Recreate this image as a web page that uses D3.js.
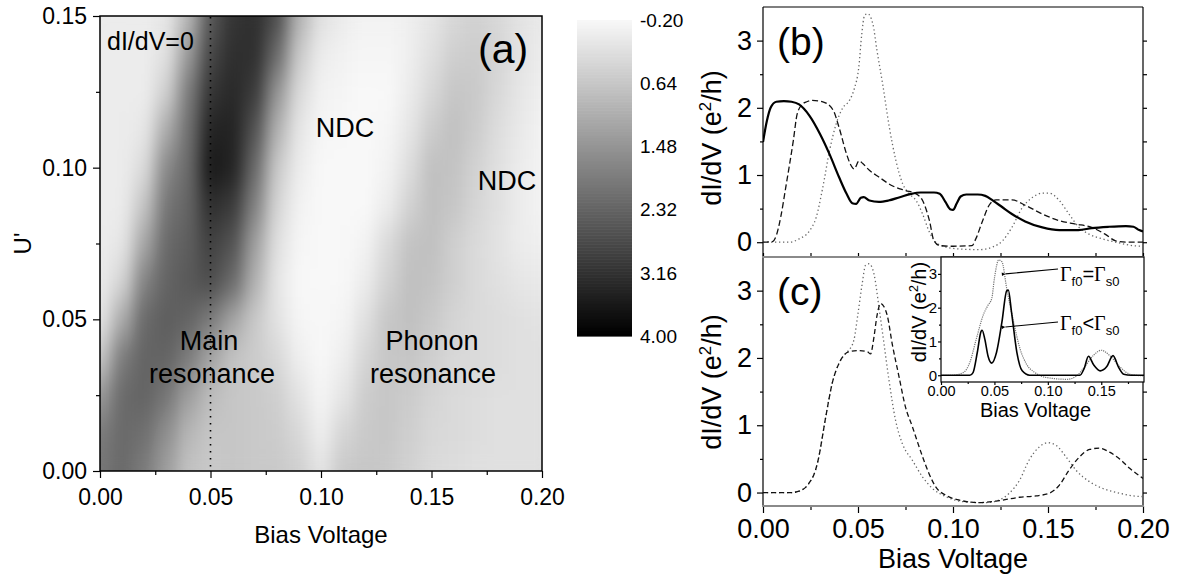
<!DOCTYPE html>
<html>
<head>
<meta charset="utf-8">
<script src="https://cdn.jsdelivr.net/npm/d3@7"></script>
<style>
  html, body { margin: 0; padding: 0; background: #fff; }
  svg { display: block; }
</style>
</head>
<body>
<svg id="fig" width="1181" height="581"></svg>
<script>
// ---------------- data ----------------
// (a) dI/dV map: bias voltage columns, U' rows
const biasGrid = [0, 0.01, 0.02, 0.03, 0.04, 0.05, 0.06, 0.07, 0.08, 0.09, 0.10,
                  0.11, 0.12, 0.13, 0.14, 0.15, 0.16, 0.17, 0.18, 0.19, 0.20];
const uGrid = [0, 0.0125, 0.025, 0.0375, 0.05, 0.0625, 0.075, 0.0875, 0.1, 0.1125, 0.125, 0.1375, 0.15];
const dIdVGrid = [
  [2.0, 2.2, 1.9, 1.3, 0.7, 0.6, 0.65, 0.6, 0.6, 0.5, 0.15, 0.6, 0.65, 0.6, 0.45, 0.3, 0.25, 0.2, 0.2, 0.2, 0.2],
  [1.9, 2.2, 2.1, 1.6, 0.9, 0.65, 0.65, 0.6, 0.55, 0.35, -0.05, 0.4, 0.6, 0.65, 0.5, 0.35, 0.3, 0.25, 0.2, 0.2, 0.2],
  [1.4, 2.2, 2.3, 2.0, 1.3, 0.8, 0.65, 0.6, 0.5, 0.15, -0.15, 0.1, 0.55, 0.65, 0.55, 0.4, 0.3, 0.25, 0.2, 0.2, 0.2],
  [0.6, 1.9, 2.3, 2.3, 1.9, 1.2, 0.7, 0.55, 0.35, -0.05, -0.2, -0.05, 0.4, 0.65, 0.65, 0.5, 0.35, 0.3, 0.25, 0.2, 0.2],
  [0.1, 1.1, 2.2, 2.4, 2.3, 1.9, 1.2, 0.6, 0.15, -0.15, -0.2, -0.15, 0.2, 0.65, 0.75, 0.6, 0.4, 0.3, 0.25, 0.2, 0.15],
  [0.0, 0.4, 1.8, 2.3, 2.5, 2.7, 2.2, 1.0, 0.1, -0.2, -0.2, -0.2, 0.0, 0.45, 0.75, 0.7, 0.5, 0.3, 0.2, 0.1, 0.05],
  [0.0, 0.1, 1.2, 2.2, 2.4, 2.9, 2.6, 1.3, 0.2, -0.15, -0.2, -0.2, -0.1, 0.3, 0.7, 0.75, 0.5, 0.3, 0.15, 0.0, -0.05],
  [0.0, 0.0, 0.7, 2.0, 2.3, 3.2, 3.0, 1.8, 0.4, -0.1, -0.2, -0.2, -0.2, 0.0, 0.45, 0.75, 0.65, 0.4, 0.2, 0.0, -0.1],
  [0.0, 0.0, 0.3, 1.7, 2.2, 3.6, 3.4, 2.2, 0.6, 0.0, -0.2, -0.2, -0.2, -0.1, 0.25, 0.75, 0.7, 0.45, 0.2, 0.0, -0.1],
  [0.0, 0.0, 0.1, 1.1, 2.1, 3.4, 3.4, 2.6, 1.0, 0.1, -0.15, -0.2, -0.2, -0.15, 0.1, 0.55, 0.75, 0.55, 0.25, 0.05, -0.1],
  [0.0, 0.0, 0.0, 0.5, 1.9, 3.1, 3.3, 3.0, 1.5, 0.3, -0.1, -0.15, -0.2, -0.2, 0.0, 0.35, 0.65, 0.6, 0.35, 0.1, -0.05],
  [0.0, 0.0, 0.0, 0.2, 1.4, 2.8, 3.2, 3.2, 2.2, 0.6, 0.0, -0.1, -0.15, -0.15, -0.05, 0.2, 0.5, 0.55, 0.4, 0.15, 0.0],
  [0.0, 0.0, 0.0, 0.1, 0.9, 2.5, 3.1, 3.2, 2.7, 1.0, 0.2, 0.0, -0.1, -0.1, -0.05, 0.1, 0.35, 0.45, 0.35, 0.15, 0.05]
];
const colorTicks = [-0.20, 0.64, 1.48, 2.32, 3.16, 4.00];
const zeroConductanceBias = 0.05;

// axis ticks
const biasTicks = [0, 0.05, 0.10, 0.15, 0.20];
const biasMinorTicks = [0.025, 0.075, 0.125, 0.175];
const uTicks = [0, 0.05, 0.10, 0.15];
const uMinorTicks = [0.025, 0.075, 0.125];
const condTicks = [0, 1, 2, 3];
const condMinorTicks = [0.5, 1.5, 2.5];
const insetBiasTicks = [0, 0.05, 0.10, 0.15];
const insetBiasMinor = [0.025, 0.075, 0.125, 0.175];

// (b) dI/dV curves
const bSolid = [[0,1.49],[0.002,1.8],[0.004,2.0],[0.007,2.09],[0.011,2.1],[0.015,2.09],[0.019,2.05],[0.0245,1.88],[0.03,1.61],[0.035,1.31],[0.04,0.97],[0.044,0.72],[0.047,0.58],[0.049,0.57],[0.0515,0.66],[0.053,0.67],[0.056,0.62],[0.061,0.6],[0.066,0.62],[0.072,0.67],[0.078,0.72],[0.083,0.74],[0.09,0.74],[0.093,0.72],[0.096,0.6],[0.0985,0.49],[0.1,0.48],[0.102,0.58],[0.104,0.68],[0.107,0.71],[0.113,0.71],[0.117,0.69],[0.121,0.62],[0.126,0.52],[0.131,0.42],[0.138,0.31],[0.147,0.22],[0.156,0.18],[0.166,0.18],[0.173,0.21],[0.182,0.23],[0.191,0.24],[0.195,0.23],[0.198,0.18],[0.2,0.16]];
const bDashed = [[0,0],[0.005,0.01],[0.007,0.1],[0.0095,0.4],[0.012,0.82],[0.016,1.52],[0.018,1.91],[0.021,2.06],[0.023,2.09],[0.026,2.11],[0.0315,2.09],[0.037,1.96],[0.040,1.71],[0.044,1.31],[0.046,1.16],[0.048,1.09],[0.0505,1.21],[0.0525,1.17],[0.056,1.07],[0.061,0.97],[0.068,0.84],[0.075,0.77],[0.0806,0.72],[0.084,0.62],[0.0876,0.32],[0.09,0.02],[0.093,-0.05],[0.1,-0.06],[0.11,-0.05],[0.112,0.05],[0.1156,0.32],[0.119,0.55],[0.1226,0.63],[0.131,0.63],[0.138,0.55],[0.147,0.42],[0.156,0.32],[0.1646,0.27],[0.173,0.22],[0.18,0.12],[0.1856,0.02],[0.191,0.0],[0.2,0.0]];
const bDotted = [[0,0],[0.014,0],[0.019,0.05],[0.0245,0.17],[0.028,0.37],[0.0315,0.82],[0.035,1.36],[0.0385,1.76],[0.042,2.0],[0.0455,2.11],[0.048,2.28],[0.0504,2.6],[0.052,3.1],[0.0534,3.37],[0.055,3.4],[0.0578,3.25],[0.06,2.85],[0.063,2.35],[0.0665,1.71],[0.07,1.21],[0.0735,0.87],[0.077,0.72],[0.0806,0.62],[0.084,0.42],[0.0876,0.15],[0.091,0.0],[0.096,-0.07],[0.103,-0.1],[0.114,-0.11],[0.121,-0.07],[0.126,0.02],[0.131,0.22],[0.1366,0.52],[0.142,0.67],[0.147,0.73],[0.1506,0.73],[0.156,0.62],[0.161,0.42],[0.1664,0.22],[0.1716,0.12],[0.1786,0.05],[0.1874,-0.01],[0.1944,-0.05],[0.2,-0.06]];

// (c) dI/dV curves
const cDashed = [[0,0],[0.015,0],[0.0206,0.04],[0.024,0.13],[0.0276,0.33],[0.029,0.48],[0.033,1.12],[0.0364,1.62],[0.04,1.92],[0.0426,2.04],[0.045,2.09],[0.05,2.11],[0.055,2.09],[0.0566,2.06],[0.0584,2.31],[0.06,2.63],[0.062,2.81],[0.0637,2.76],[0.0654,2.63],[0.068,2.21],[0.0716,1.72],[0.075,1.27],[0.0786,0.98],[0.084,0.53],[0.0874,0.28],[0.091,0.08],[0.0962,-0.04],[0.103,-0.11],[0.1138,-0.15],[0.1244,-0.12],[0.135,-0.07],[0.1437,-0.05],[0.1507,-0.01],[0.156,0.11],[0.161,0.33],[0.1666,0.53],[0.1719,0.64],[0.1771,0.66],[0.1824,0.6],[0.1877,0.5],[0.193,0.36],[0.2,0.21]];
const cDotted = [[0,0],[0.015,0],[0.0206,0.04],[0.024,0.13],[0.0276,0.33],[0.029,0.48],[0.033,1.12],[0.0364,1.62],[0.04,1.92],[0.0426,2.04],[0.045,2.11],[0.0478,2.26],[0.05,2.66],[0.0522,3.1],[0.054,3.38],[0.0558,3.4],[0.0584,3.25],[0.061,2.76],[0.0637,2.21],[0.0663,1.67],[0.0698,1.07],[0.0733,0.73],[0.0786,0.48],[0.084,0.23],[0.0892,0.06],[0.0962,-0.06],[0.1068,-0.14],[0.1173,-0.15],[0.1244,-0.11],[0.1296,-0.01],[0.135,0.18],[0.14,0.48],[0.1455,0.68],[0.15,0.74],[0.1543,0.7],[0.1595,0.53],[0.1648,0.33],[0.1719,0.16],[0.1789,0.06],[0.1877,-0.01],[0.1947,-0.05],[0.2,-0.06]];

// (c) inset curves
const insetEqual = [[0,0],[0.011,0],[0.021,0.08],[0.027,0.38],[0.033,1.07],[0.04,1.82],[0.044,2.07],[0.0475,2.27],[0.05,2.87],[0.054,3.41],[0.057,3.36],[0.0615,2.57],[0.068,1.57],[0.074,0.78],[0.08,0.33],[0.088,0.08],[0.099,-0.07],[0.118,-0.12],[0.127,-0.02],[0.134,0.23],[0.143,0.6],[0.15,0.74],[0.158,0.58],[0.168,0.23],[0.177,0.03],[0.19,-0.02]];
const insetLess = [[0,0],[0.027,0],[0.030,0.08],[0.034,0.68],[0.0375,1.3],[0.0385,1.33],[0.041,1.07],[0.044,0.57],[0.0475,0.36],[0.052,0.68],[0.057,1.57],[0.0615,2.5],[0.063,2.52],[0.066,1.87],[0.071,0.68],[0.076,0.13],[0.083,0],[0.130,0],[0.134,0.2],[0.138,0.56],[0.143,0.3],[0.149,0.13],[0.155,0.25],[0.161,0.58],[0.166,0.25],[0.171,0.03],[0.178,0],[0.19,0]];

// ---------------- drawing ----------------
const FONT = '"Liberation Sans", Arial, Helvetica, sans-serif';
const SERIF = '"Liberation Serif", "Times New Roman", serif';
const svg = d3.select("#fig").attr("font-family", FONT);
const defs = svg.append("defs");

function styleAxis(g, fs) {
  g.attr("font-family", null).attr("font-size", null);
  g.select(".domain").remove();
  g.selectAll(".tick line").attr("stroke", "#000").attr("stroke-width", 1.2);
  g.selectAll(".tick text").attr("fill", "#000").attr("font-size", fs).attr("font-family", FONT);
  return g;
}
function addAxis(parent, axis, transform, fs) {
  return styleAxis(parent.append("g").attr("transform", transform).call(axis), fs);
}

// ===== panel (a) =====
const A = { l: 100, r: 542, t: 16, b: 471 };
const xA = d3.scaleLinear().domain([0, 0.2]).range([A.l, A.r]);
const yA = d3.scaleLinear().domain([0, 0.15]).range([A.b, A.t]);
const gray = d3.scaleLinear().domain([-0.2, 4.0]).range(["#f8f8f8", "#000000"]).clamp(true);

defs.append("clipPath").attr("id", "clipA")
  .append("rect").attr("x", A.l).attr("y", A.t).attr("width", A.r - A.l).attr("height", A.b - A.t);
const blur = defs.append("filter").attr("id", "smooth")
  .attr("x", "-5%").attr("y", "-5%").attr("width", "110%").attr("height", "110%")
  .attr("color-interpolation-filters", "sRGB");
blur.append("feGaussianBlur").attr("stdDeviation", "8 15").attr("result", "b");
blur.append("feComponentTransfer").append("feFuncA").attr("type", "linear").attr("slope", 20).attr("intercept", 0);

const dx = biasGrid[1] - biasGrid[0];
const du = uGrid[1] - uGrid[0];
const cells = [];
uGrid.forEach((u, i) => biasGrid.forEach((v, j) => cells.push({ v, u, z: dIdVGrid[i][j] })));

svg.append("g").attr("clip-path", "url(#clipA)")
  .append("g").attr("filter", "url(#smooth)")
  .selectAll("rect").data(cells).join("rect")
  .attr("x", d => xA(d.v - dx / 2))
  .attr("y", d => yA(d.u + du / 2))
  .attr("width", xA(dx) - xA(0) + 0.5)
  .attr("height", yA(0) - yA(du) + 0.5)
  .attr("fill", d => gray(d.z));

// dI/dV = 0 guide line
svg.append("line")
  .attr("x1", xA(zeroConductanceBias)).attr("x2", xA(zeroConductanceBias))
  .attr("y1", A.t + 1).attr("y2", A.b)
  .attr("stroke", "#000").attr("stroke-width", 1.6).attr("stroke-dasharray", "1.6,5.4");

svg.append("rect").attr("x", A.l).attr("y", A.t).attr("width", A.r - A.l).attr("height", A.b - A.t)
  .attr("fill", "none").attr("stroke", "#000").attr("stroke-width", 1.5);

addAxis(svg, d3.axisBottom(xA).tickValues(biasTicks).tickFormat(d3.format(".2f")).tickSize(7).tickPadding(11), `translate(0,${A.b})`, 23);
addAxis(svg, d3.axisBottom(xA).tickValues(biasMinorTicks).tickFormat("").tickSize(4), `translate(0,${A.b})`, 23);
addAxis(svg, d3.axisLeft(yA).tickValues(uTicks).tickFormat(d3.format(".2f")).tickSize(7).tickPadding(6), `translate(${A.l},0)`, 23);
addAxis(svg, d3.axisLeft(yA).tickValues(uMinorTicks).tickFormat("").tickSize(4), `translate(${A.l},0)`, 23);

svg.append("text").attr("x", xA(0.1)).attr("y", 543).attr("text-anchor", "middle")
  .attr("font-size", 24).text("Bias Voltage");
svg.append("text").attr("transform", `translate(31,${yA(0.075)}) rotate(-90)`).attr("text-anchor", "middle")
  .attr("font-size", 24).text("U'");

const aNotes = [
  { t: "dI/dV=0", x: 107, y: 50, fs: 25, anchor: "start" },
  { t: "(a)", x: 478, y: 63, fs: 41, anchor: "start" },
  { t: "NDC", x: 345, y: 137, fs: 27, anchor: "middle" },
  { t: "NDC", x: 507, y: 190, fs: 27, anchor: "middle" },
  { t: "Main", x: 209, y: 350, fs: 27, anchor: "middle" },
  { t: "resonance", x: 212, y: 383, fs: 27, anchor: "middle" },
  { t: "Phonon", x: 432, y: 350, fs: 27, anchor: "middle" },
  { t: "resonance", x: 433, y: 383, fs: 27, anchor: "middle" }
];
svg.append("g").selectAll("text").data(aNotes).join("text")
  .attr("x", d => d.x).attr("y", d => d.y).attr("font-size", d => d.fs)
  .attr("text-anchor", d => d.anchor).attr("fill", "#000").text(d => d.t);

// colour bar
const CB = { l: 577, r: 632, t: 20, b: 336 };
const yCB = d3.scaleLinear().domain([-0.2, 4.0]).range([CB.t, CB.b]);
const cbSteps = d3.range(-0.2, 4.0, 0.02);
svg.append("g").selectAll("rect").data(cbSteps).join("rect")
  .attr("x", CB.l).attr("width", CB.r - CB.l)
  .attr("y", d => yCB(d)).attr("height", yCB(0.02) - yCB(0) + 0.6)
  .attr("fill", d => gray(d + 0.01));
svg.append("g").selectAll("text").data(colorTicks).join("text")
  .attr("x", 640).attr("y", d => yCB(d)).attr("dy", "0.36em")
  .attr("font-size", 19).attr("fill", "#000").text(d => d.toFixed(2));

// ===== panels (b) and (c) =====
const R = { l: 763, r: 1143 };
const B = { t: 7, b: 257 };
const C = { t: 257, b: 506 };
const xR = d3.scaleLinear().domain([0, 0.2]).range([R.l, R.r]);
const yB = d3.scaleLinear().domain([-0.22, 3.5]).range([B.b, B.t]);
const yC = d3.scaleLinear().domain([-0.2, 3.5]).range([C.b, C.t]);

function framePanel(top, bottom) {
  const f = svg.append("g");
  f.append("line").attr("x1", R.l).attr("x2", R.l).attr("y1", top).attr("y2", bottom).attr("stroke", "#000").attr("stroke-width", 1.2);
  f.append("line").attr("x1", R.r).attr("x2", R.r).attr("y1", top).attr("y2", bottom).attr("stroke", "#000").attr("stroke-width", 1.2);
  f.append("line").attr("x1", R.l).attr("x2", R.r).attr("y1", top).attr("y2", top).attr("stroke", "#000").attr("stroke-width", 1.2);
}

function linePlot(data, xs, ys, style, clipId) {
  const gen = d3.line().x(d => xs(d[0])).y(d => ys(d[1])).curve(d3.curveMonotoneX);
  const p = svg.append("path").datum(data).attr("d", gen).attr("fill", "none")
    .attr("stroke", style.color).attr("stroke-width", style.width)
    .attr("stroke-dasharray", style.dash || null).attr("stroke-linejoin", "round");
  if (clipId) p.attr("clip-path", `url(#${clipId})`);
  return p;
}

defs.append("clipPath").attr("id", "clipB").append("rect").attr("x", R.l).attr("y", B.t).attr("width", R.r - R.l).attr("height", B.b - B.t);
defs.append("clipPath").attr("id", "clipC").append("rect").attr("x", R.l).attr("y", C.t).attr("width", R.r - R.l).attr("height", C.b - C.t);

// panel (b)
framePanel(B.t, B.b);
linePlot(bDotted, xR, yB, { color: "#666", width: 1.3, dash: "1.3,2.7" }, "clipB");
linePlot(bDashed, xR, yB, { color: "#111", width: 1.3, dash: "6,3" }, "clipB");
linePlot(bSolid, xR, yB, { color: "#000", width: 2.2 }, "clipB");

addAxis(svg, d3.axisLeft(yB).tickValues(condTicks).tickFormat(d3.format("d")).tickSize(6).tickPadding(5), `translate(${R.l},0)`, 27);
addAxis(svg, d3.axisLeft(yB).tickValues(condMinorTicks).tickFormat("").tickSize(3), `translate(${R.l},0)`, 27);
addAxis(svg, d3.axisLeft(yB).tickValues(condTicks.concat(condMinorTicks)).tickFormat("").tickSize(-4), `translate(${R.r},0)`, 27);
addAxis(svg, d3.axisBottom(xR).tickValues(biasTicks.concat(biasMinorTicks)).tickFormat("").tickSize(-4), `translate(0,${B.b})`, 27);

// panel (c)
framePanel(C.t, C.b);
linePlot(cDotted, xR, yC, { color: "#666", width: 1.3, dash: "1.3,2.7" }, "clipC");
linePlot(cDashed, xR, yC, { color: "#111", width: 1.3, dash: "5,3" }, "clipC");

addAxis(svg, d3.axisLeft(yC).tickValues(condTicks).tickFormat(d3.format("d")).tickSize(6).tickPadding(5), `translate(${R.l},0)`, 27);
addAxis(svg, d3.axisLeft(yC).tickValues(condMinorTicks).tickFormat("").tickSize(3), `translate(${R.l},0)`, 27);
addAxis(svg, d3.axisLeft(yC).tickValues(condTicks.concat(condMinorTicks)).tickFormat("").tickSize(-4), `translate(${R.r},0)`, 27);
addAxis(svg, d3.axisBottom(xR).tickValues(biasTicks).tickFormat(d3.format(".2f")).tickSize(7).tickPadding(6), `translate(0,${C.b})`, 27);
addAxis(svg, d3.axisBottom(xR).tickValues(biasMinorTicks).tickFormat("").tickSize(4), `translate(0,${C.b})`, 27);

// grey base lines of (b) and (c)
[B.b, C.b].forEach(y => svg.append("line").attr("x1", R.l - 1).attr("x2", R.r + 1).attr("y1", y).attr("y2", y)
  .attr("stroke", "#8a8a8a").attr("stroke-width", 2.2));

// axis titles
function condLabel(x, cy, fs) {
  const t = svg.append("text").attr("transform", `translate(${x},${cy}) rotate(-90)`)
    .attr("text-anchor", "middle").attr("font-size", fs).attr("fill", "#000");
  t.append("tspan").text("dI/dV (e");
  t.append("tspan").attr("font-size", fs * 0.62).attr("dy", -fs * 0.38).text("2");
  t.append("tspan").attr("dy", fs * 0.38).text("/h)");
  return t;
}
condLabel(721, 138, 27);
condLabel(721, 382, 27);
svg.append("text").attr("x", xR(0.1)).attr("y", 568).attr("text-anchor", "middle").attr("font-size", 27).text("Bias Voltage");
svg.append("text").attr("x", 777).attr("y", 55).attr("font-size", 39).text("(b)");
svg.append("text").attr("x", 777).attr("y", 305).attr("font-size", 39).text("(c)");

// ===== inset of (c) =====
const I = { l: 941, r: 1144, t: 257, b: 382 };
const xI = d3.scaleLinear().domain([0, 0.19]).range([I.l, I.r]);
const yI = d3.scaleLinear().domain([-0.2, 3.5]).range([I.b, I.t]);
defs.append("clipPath").attr("id", "clipI").append("rect").attr("x", I.l).attr("y", I.t).attr("width", I.r - I.l).attr("height", I.b - I.t);

svg.append("rect").attr("x", I.l).attr("y", I.t).attr("width", I.r - I.l).attr("height", I.b - I.t)
  .attr("fill", "#fff").attr("stroke", "#000").attr("stroke-width", 1.2);
linePlot(insetEqual, xI, yI, { color: "#777", width: 1.2, dash: "1.2,1" }, "clipI");
linePlot(insetLess, xI, yI, { color: "#000", width: 1.6 }, "clipI");

addAxis(svg, d3.axisBottom(xI).tickValues(insetBiasTicks).tickFormat(d3.format(".2f")).tickSize(3).tickPadding(1), `translate(0,${I.b})`, 14.5);
addAxis(svg, d3.axisBottom(xI).tickValues(insetBiasMinor).tickFormat("").tickSize(2), `translate(0,${I.b})`, 14.5);
addAxis(svg, d3.axisLeft(yI).tickValues(condTicks).tickFormat(d3.format("d")).tickSize(3).tickPadding(1), `translate(${I.l},0)`, 15);
addAxis(svg, d3.axisLeft(yI).tickValues(condMinorTicks).tickFormat("").tickSize(2), `translate(${I.l},0)`, 15);
svg.append("text").attr("x", (I.l + I.r) / 2 - 7).attr("y", 417).attr("text-anchor", "middle").attr("font-size", 20).text("Bias Voltage");
condLabel(926, 312, 20);

// arrows labelling the inset curves
defs.append("marker").attr("id", "head").attr("viewBox", "0 0 10 10").attr("refX", 0).attr("refY", 5)
  .attr("markerWidth", 5).attr("markerHeight", 3.2).attr("orient", "auto-start-reverse")
  .append("path").attr("d", "M10,0 L0,5 L10,10 Z").attr("fill", "#000");

const insetNotes = [
  { sym: "=", tip: [0.0565, 3.0], from: [1058, 269], tx: 1060, ty: 281 },
  { sym: "<", tip: [0.0565, 1.43], from: [1058, 322], tx: 1060, ty: 330 }
];
insetNotes.forEach(n => {
  svg.append("line").attr("x1", n.from[0]).attr("y1", n.from[1])
    .attr("x2", xI(n.tip[0]) + 4).attr("y2", yI(n.tip[1]))
    .attr("stroke", "#000").attr("stroke-width", 1.1).attr("marker-end", "url(#head)");
  const t = svg.append("text").attr("x", n.tx).attr("y", n.ty).attr("font-size", 20).attr("fill", "#000");
  t.append("tspan").attr("font-family", SERIF).text("Γ");
  t.append("tspan").attr("font-size", 13).attr("dy", 5).text("f0");
  t.append("tspan").attr("dy", -5).text(n.sym);
  t.append("tspan").attr("font-family", SERIF).text("Γ");
  t.append("tspan").attr("font-size", 13).attr("dy", 5).text("s0");
});
</script>
</body>
</html>
